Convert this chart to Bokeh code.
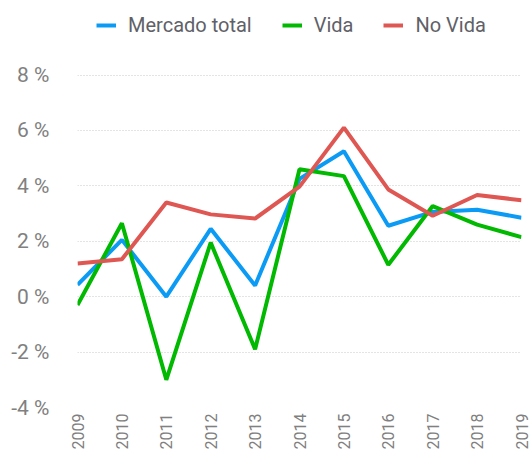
from bokeh.plotting import figure
from bokeh.models import Legend, LegendItem, FixedTicker, PrintfTickFormatter, Range1d
from bokeh.embed import file_html
from bokeh.resources import INLINE
import math

years = [2009, 2010, 2011, 2012, 2013, 2014, 2015, 2016, 2017, 2018, 2019]
mercado_total = [0.43, 2.05, 0.0, 2.45, 0.4, 4.25, 5.25, 2.56, 3.06, 3.14, 2.85]
vida = [-0.3, 2.65, -3.0, 1.95, -1.9, 4.6, 4.35, 1.15, 3.27, 2.6, 2.15]
no_vida = [1.2, 1.35, 3.4, 2.97, 2.82, 3.97, 6.1, 3.87, 2.92, 3.67, 3.48]
y_ticks = [-4, -2, 0, 2, 4, 6, 8]

FONT = "Roboto"

p = figure(width=531, height=452, output_backend="svg", toolbar_location=None,
           x_range=Range1d(2009, 2019), y_range=Range1d(-4, 10.4),
           min_border_left=77, min_border_right=10, min_border_top=8, min_border_bottom=43)
p.outline_line_color = None

r1 = p.line(years, mercado_total, line_color="#0b9bf5", line_width=4)
r2 = p.line(years, vida, line_color="#00b900", line_width=4)
r3 = p.line(years, no_vida, line_color="#df5752", line_width=4)

p.xgrid.grid_line_color = None
p.ygrid.grid_line_color = "#c8c8c8"
p.ygrid.grid_line_dash = "1 2"
p.ygrid.grid_line_width = 1

p.yaxis.ticker = FixedTicker(ticks=y_ticks)
p.yaxis.formatter = PrintfTickFormatter(format="%d %%")
p.xaxis.ticker = FixedTicker(ticks=years)
p.xaxis.major_label_orientation = math.pi / 2
for ax in (p.xaxis, p.yaxis):
    ax.axis_line_color = None
    ax.major_tick_line_color = None
    ax.minor_tick_line_color = None
    ax.major_label_text_font = FONT
    ax.major_label_text_color = "#808080"
p.yaxis.major_label_text_font_size = "21px"
p.xaxis.major_label_text_font_size = "16px"
p.yaxis.major_label_standoff = 22
p.xaxis.major_label_standoff = 0

legend = Legend(items=[
    LegendItem(label="Mercado total", renderers=[r1]),
    LegendItem(label="Vida", renderers=[r2]),
    LegendItem(label="No Vida", renderers=[r3]),
], orientation="horizontal", location=(19, 370))
legend.label_text_font = FONT
legend.label_text_font_size = "20px"
legend.label_text_color = "#5f6168"
legend.glyph_width = 20
legend.spacing = 30
legend.label_standoff = 12
legend.border_line_color = None
legend.background_fill_alpha = 0
legend.margin = 0
legend.padding = 8
p.add_layout(legend, "center")

open("out.html", "w").write(file_html(p, INLINE))
